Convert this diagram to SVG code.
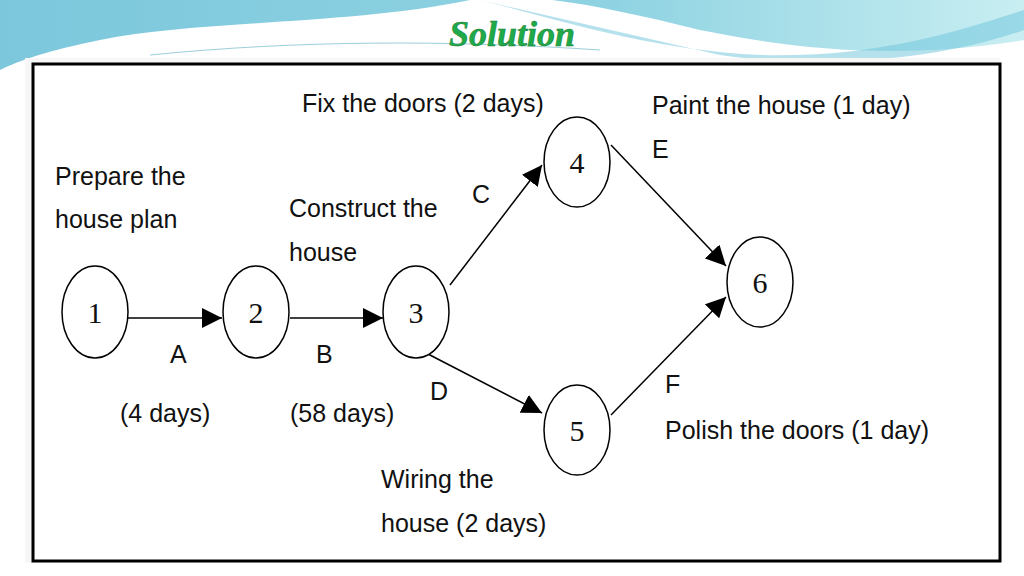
<svg xmlns="http://www.w3.org/2000/svg" width="1024" height="576" viewBox="0 0 1024 576">
<defs>
<linearGradient id="bg" x1="0" y1="0" x2="1" y2="0"><stop offset="0" stop-color="#7cc7dc"/><stop offset="0.6" stop-color="#8fd3e2"/><stop offset="1" stop-color="#c8eef2"/></linearGradient>
<marker id="ah" viewBox="0 0 10 10" refX="10" refY="5" markerWidth="20" markerHeight="20" markerUnits="userSpaceOnUse" orient="auto"><path d="M0,0 L10,5 L0,10 z" fill="#000"/></marker>
<style>
.n{fill:#fff;stroke:#000;stroke-width:1.5}
.t{font-family:"Liberation Sans",Arial,sans-serif;font-size:25px;fill:#111}
.d{font-family:"Liberation Serif","Times New Roman",serif;font-size:30px;fill:#111}
.c{stroke:#000;stroke-width:1.5;fill:none;marker-end:url(#ah)}
</style>
</defs>
<rect width="1024" height="576" fill="#fff"/>
<path d="M0,0 H1024 V40 C900,60 800,50 700,30 C600,5 520,-10 470,0 C350,25 200,20 100,40 C50,50 20,60 0,70 Z" fill="url(#bg)"/>
<path d="M480,0 C560,20 650,50 760,55 C880,58 960,30 1024,10 V30 C940,60 820,70 720,55 Z" fill="#6cc3dc" opacity="0.5"/>
<path d="M150,55 C300,40 450,40 600,50" stroke="#9ccfd9" stroke-width="1" fill="none"/>
<text x="512" y="46" text-anchor="middle" style="font-family:'Liberation Serif',serif;font-size:36px;font-weight:bold;font-style:italic;fill:#1faa4a;stroke:#157a33;stroke-width:0.5">Solution</text>
<rect x="25" y="58" width="975" height="505" fill="#f7f7f7"/>
<rect x="33" y="64" width="967" height="497" fill="#fff" stroke="#000" stroke-width="3"/>
<g id="connectors">
<line class="c" x1="128" y1="318" x2="222" y2="318"/>
<line class="c" x1="290" y1="318" x2="383" y2="318"/>
<line class="c" x1="450" y1="285" x2="542" y2="165"/>
<line class="c" x1="428" y1="354" x2="542" y2="413"/>
<line class="c" x1="611" y1="145" x2="726" y2="266"/>
<line class="c" x1="611" y1="415" x2="726" y2="297"/>
</g>
<g id="n1"><ellipse class="n" cx="95" cy="312" rx="33" ry="46"/><text class="d" x="95" y="323" text-anchor="middle">1</text></g>
<g id="n2"><ellipse class="n" cx="256" cy="312" rx="33" ry="46"/><text class="d" x="256" y="323" text-anchor="middle">2</text></g>
<g id="n3"><ellipse class="n" cx="416" cy="312" rx="33" ry="46"/><text class="d" x="416" y="323" text-anchor="middle">3</text></g>
<g id="n4"><ellipse class="n" cx="577" cy="162" rx="33" ry="45"/><text class="d" x="577" y="173" text-anchor="middle">4</text></g>
<g id="n5"><ellipse class="n" cx="577" cy="430" rx="33" ry="45"/><text class="d" x="577" y="441" text-anchor="middle">5</text></g>
<g id="n6"><ellipse class="n" cx="760" cy="282" rx="33" ry="45"/><text class="d" x="760" y="293" text-anchor="middle">6</text></g>
<g id="labels">
<text class="t" x="55" y="185">Prepare the</text>
<text class="t" x="55" y="228">house plan</text>
<text class="t" x="170" y="363">A</text>
<text class="t" x="120" y="422">(4 days)</text>
<text class="t" x="289" y="217">Construct the</text>
<text class="t" x="289" y="261">house</text>
<text class="t" x="316" y="363">B</text>
<text class="t" x="290" y="422">(58 days)</text>
<text class="t" x="302" y="112">Fix the doors (2 days)</text>
<text class="t" x="472" y="203">C</text>
<text class="t" x="430" y="400">D</text>
<text class="t" x="381" y="488">Wiring the</text>
<text class="t" x="381" y="532">house (2 days)</text>
<text class="t" x="652" y="114">Paint the house (1 day)</text>
<text class="t" x="652" y="158">E</text>
<text class="t" x="665" y="393">F</text>
<text class="t" x="665" y="439">Polish the doors (1 day)</text>
</g>
</svg>
